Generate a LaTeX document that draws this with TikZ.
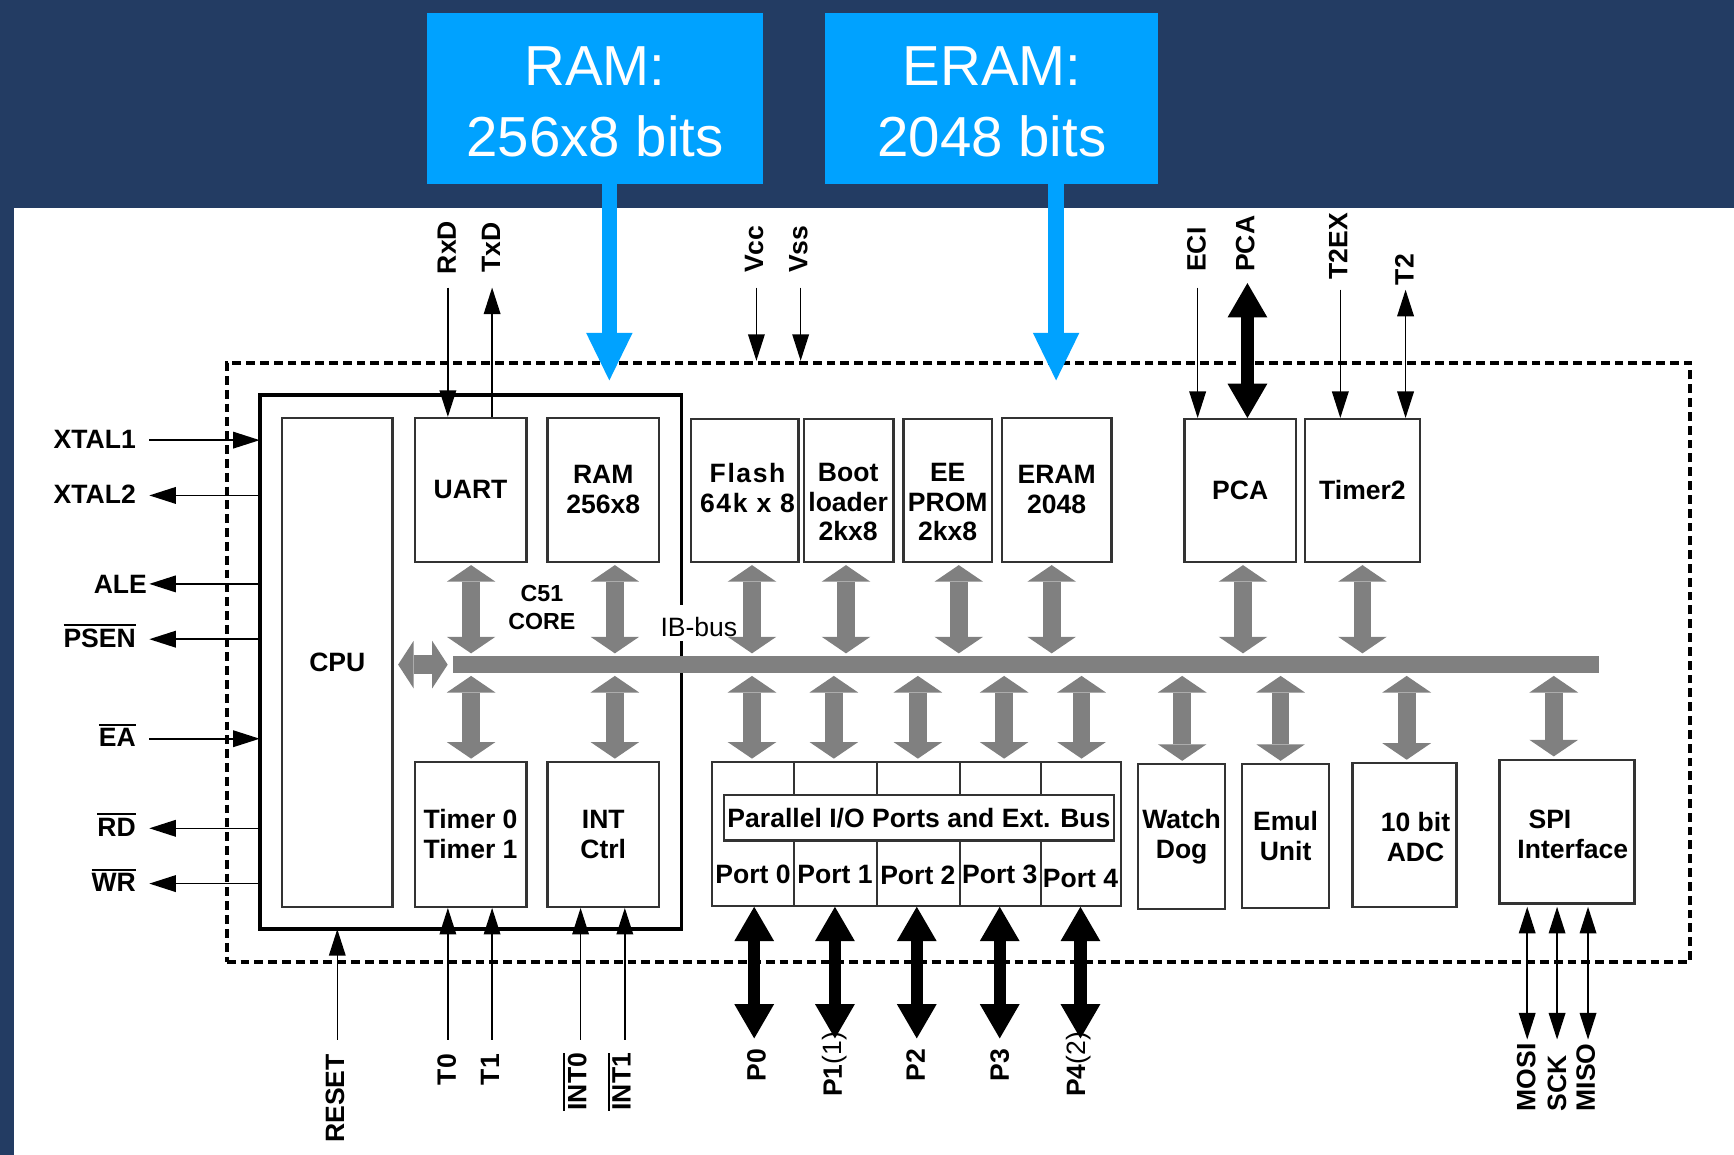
\documentclass[tikz,border=0pt]{standalone}
\usepackage{fontspec}
\setmainfont{Liberation Sans}
\usetikzlibrary{arrows.meta}
\definecolor{navy}{RGB}{35,60,99}
\definecolor{callout}{RGB}{0,162,255}
\definecolor{busgray}{RGB}{128,128,128}
\newcommand\ovl[1]{\setbox0=\hbox{#1}\rlap{\smash{\rule[\dimexpr\ht0+2.5pt\relax]{\wd0}{1.8pt}}}\box0}
\newcommand\gup[3]{\path ([xshift=#2pt]#1.south) coordinate (#3); \draw[gbus] (#3) -- (#3 |- bus.north);}
\newcommand\gdn[3]{\path ([xshift=#2pt]#1.north) coordinate (#3); \draw[gbus] (#3 |- bus.south) -- (#3);}
\begin{document}
\begin{tikzpicture}[x=1pt,y=-1pt,
  blk/.style={draw=black!80, line width=2pt, fill=white, inner sep=0pt, font=\fontsize{24}{27}\selectfont\bfseries, align=center},
  lab/.style={inner sep=0pt, font=\fontsize{24}{27}\selectfont\bfseries, align=center},
  rlab/.style={lab, rotate=90},
  sig/.style={line width=1.4pt, -{Triangle[length=24pt,width=15pt]}},
  sigbi/.style={line width=1.4pt, {Triangle[length=24pt,width=15pt]}-{Triangle[length=24pt,width=15pt]}},
  fatbi/.style={line width=11pt, {Triangle[length=31pt,width=36pt,line width=0pt]}-{Triangle[length=31pt,width=36pt,line width=0pt]}},
  gbus/.style={busgray, line width=16pt, shorten >=2pt, shorten <=2pt, {Triangle[length=15pt,width=44pt,line width=0pt]}-{Triangle[length=15pt,width=44pt,line width=0pt]}},
  callbox/.style={fill=callout, inner sep=0pt},
  calltext/.style={text=white, inner sep=0pt, font=\fontsize{51}{64}\selectfont, align=center},
  callarr/.style={callout, line width=14pt, -{Triangle[length=43pt,width=42pt,line width=0pt]}},
]
\useasboundingbox (0,0) rectangle (1568,1044);
% background
\fill[navy] (0,0) rectangle (1568,1044);
\fill[white] (13,188) rectangle (1568,1044);

% dashed chip border
\node[draw, line width=3.4pt, dash pattern=on 8pt off 4.5pt, minimum width=1323pt, minimum height=542pt, inner sep=0pt] (dash) at (866.5,599) {};

% C51 core outline with gap for IB-bus label
\node[minimum width=381pt, minimum height=483pt, inner sep=0pt] (core) at (425.5,598.5) {};
\draw[line width=3.5pt] ([yshift=51.5pt]core.east) -- (core.north east) -- (core.north west) -- (core.south west) -- (core.south east) -- ([yshift=18.5pt]core.east);

% blocks
\node[blk, minimum width=100pt, minimum height=442pt] (cpu) at (305,599) {CPU};
\node[blk, minimum width=101pt, minimum height=130pt] (uart) at (425.5,443) {UART};
\node[blk, minimum width=101pt, minimum height=130pt] (ram) at (545.5,443) {RAM\\256x8};
\node[blk, minimum width=101pt, minimum height=131pt] (tmr) at (425.5,754.5) {Timer 0\\Timer 1};
\node[blk, minimum width=101pt, minimum height=131pt] (intc) at (545.5,754.5) {INT\\Ctrl};
\node[blk, minimum width=97pt, minimum height=129pt] (flash) at (673.5,443.5) {};
\node[lab, font=\fontsize{24}{27}\selectfont\bfseries\addfontfeature{LetterSpace=6}] (flasht) at (676,441) {Flash\\64k x 8};
\node[blk, minimum width=81pt, minimum height=129pt] (boot) at (767.5,443.5) {};
\node[lab] (boott) at (767,454) {Boot\\loader\\2kx8};
\node[blk, minimum width=80pt, minimum height=129pt] (eep) at (857,443.5) {};
\node[lab] (eept) at (857,454) {EE\\PROM\\2kx8};
\node[blk, minimum width=99pt, minimum height=130pt] (eram) at (955.5,443) {ERAM\\2048};
\node[blk, minimum width=101pt, minimum height=129pt] (pca) at (1121.5,443.5) {PCA};
\node[blk, minimum width=104pt, minimum height=129pt] (tmr2) at (1232,443.5) {Timer2};

\node[blk, minimum width=370pt, minimum height=130pt] (ports) at (829,754) {};
\foreach \dx in {718,793,868,941} {
  \draw[line width=2pt, black!80] (\dx,689) -- (\dx,719);
  \draw[line width=2pt, black!80] (\dx,760) -- (\dx,819);
}
\node[blk, minimum width=352pt, minimum height=41pt] (parl) at (831,739.5) {Parallel I/O Ports and Ext. Bus};
\node[lab] (port0) at (681,791) {Port 0};
\node[lab] (port1) at (755,791) {Port 1};
\node[lab] (port2) at (830,792) {Port 2};
\node[lab] (port3) at (904,791) {Port 3};
\node[lab] (port4) at (977,794) {Port 4};

\node[blk, minimum width=79pt, minimum height=131pt] (wdog) at (1068.5,756.5) {Watch\\Dog};
\node[blk, minimum width=79pt, minimum height=130pt] (emul) at (1162.5,756) {Emul\\Unit};
\node[blk, minimum width=94pt, minimum height=130pt] (adc) at (1270,755) {};
\node[lab] (adct) at (1280,757) {10 bit\\ADC};
\node[blk, minimum width=122pt, minimum height=130pt] (spi) at (1417,752) {};
\node[lab, anchor=west] (spit) at (1382,741) {SPI};
\node[lab, anchor=west] (spit2) at (1372,768) {Interface};

\node[lab, font=\fontsize{21}{25}\selectfont\bfseries] (c51) at (490,549.5) {C51\\CORE};

% internal bus
\node[fill=busgray, minimum width=1036pt, minimum height=16pt, inner sep=0pt] (bus) at (928,601) {};
\path ([xshift=2pt,yshift=-2pt]cpu.east) coordinate (cpub);
\draw[gbus, line width=17pt, shorten >=5pt, {Triangle[length=14pt,width=43pt,line width=0pt]}-{Triangle[length=14pt,width=43pt,line width=0pt]}] (cpub) -- (cpub -| bus.west);
\gup{uart}{0.5}{gu1}
\gup{ram}{10.5}{gu2}
\gup{flash}{6.5}{gu3}
\gup{boot}{-2.5}{gu4}
\gup{eep}{10}{gu5}
\gup{eram}{-4.5}{gu6}
\gup{pca}{2.5}{gu7}
\gup{tmr2}{0}{gu8}
\gdn{tmr}{0.5}{gd1}
\gdn{intc}{10.5}{gd2}
\gdn{ports}{-149}{gd3}
\gdn{ports}{-75}{gd4}
\gdn{ports}{1}{gd5}
\gdn{ports}{79}{gd6}
\gdn{ports}{149}{gd7}
\gdn{wdog}{0.5}{gd8}
\gdn{emul}{-4.5}{gd9}
\gdn{adc}{2}{gd10}
\gdn{spi}{-12}{gd11}

\node[lab, font=\fontsize{24}{27}\selectfont] (ibbus) at (632,567) {IB-bus};

% left signals
\node[lab, anchor=east] (xtal1) at (123,397) {XTAL1};
\node[lab, anchor=east] (xtal2) at (123,447) {XTAL2};
\node[lab, anchor=east] (ale) at (133,528) {ALE};
\node[lab, anchor=east] (psen) at (123,577) {\ovl{PSEN}};
\node[lab, anchor=east] (ea) at (123,667) {\ovl{EA}};
\node[lab, anchor=east] (rd) at (123,748) {\ovl{RD}};
\node[lab, anchor=east] (wr) at (123,798) {\ovl{WR}};
\coordinate (xtal1s) at (135,398);
\coordinate (xtal2s) at (135,448);
\coordinate (ales) at (135,528);
\coordinate (psens) at (135,578);
\coordinate (eas) at (135,668);
\coordinate (rds) at (135,749);
\coordinate (wrs) at (135,799);
\draw[sig] (xtal1s) -- (xtal1s -| core.west);
\draw[sig] (xtal2s -| core.west) -- (xtal2s);
\draw[sig] (ales -| core.west) -- (ales);
\draw[sig] (psens -| core.west) -- (psens);
\draw[sig] (eas) -- (eas -| core.west);
\draw[sig] (rds -| core.west) -- (rds);
\draw[sig] (wrs -| core.west) -- (wrs);

% top signals
\node[rlab, anchor=west] (rxd) at (404,248) {RxD};
\node[rlab, anchor=west] (txd) at (444,247) {TxD};
\node[rlab, anchor=west] (vcc) at (682,247) {Vcc};
\node[rlab, anchor=west] (vss) at (722,247) {Vss};
\node[rlab, anchor=west] (eci) at (1082,246) {ECI};
\node[rlab, anchor=west] (pcal) at (1126,246) {PCA};
\node[rlab, anchor=west] (t2ex) at (1210,253) {T2EX};
\node[rlab, anchor=west] (t2) at (1270,258) {T2};
\coordinate (rxds) at (405,260);
\coordinate (txds) at (445,260);
\coordinate (vccs) at (684,260);
\coordinate (vsss) at (724,260);
\coordinate (ecis) at (1083,260);
\coordinate (pcas) at (1128,256);
\coordinate (t2exs) at (1212,262);
\coordinate (t2s) at (1271,262);
\draw[sig] (rxds) -- (rxds |- uart.north);
\draw[sig] (txds |- uart.north) -- (txds);
\draw[sig] (vccs) -- (vccs |- dash.north);
\draw[sig] (vsss) -- (vsss |- dash.north);
\draw[sig] (ecis) -- (ecis |- pca.north);
\draw[fatbi] (pcas) -- (pcas |- pca.north);
\draw[sig] (t2exs) -- (t2exs |- tmr2.north);
\draw[sigbi] (t2s) -- (t2s |- tmr2.north);

% bottom signals
\node[rlab, anchor=east] (reset) at (303,953) {RESET};
\node[rlab, anchor=east] (t0) at (404,953) {T0};
\node[rlab, anchor=east] (t1) at (443,953) {T1};
\node[rlab, anchor=east] (int0) at (522,952) {\ovl{INT0}};
\node[rlab, anchor=east] (int1) at (562,952) {\ovl{INT1}};
\node[rlab, anchor=east] (p0) at (684,948) {P0};
\node[rlab, anchor=east] (p1) at (755,933) {P1{\mdseries(1)}};
\node[rlab, anchor=east] (p2) at (828,948) {P2};
\node[rlab, anchor=east] (p3) at (904,948) {P3};
\node[rlab, anchor=east] (p4) at (975,933) {P4{\mdseries(2)}};
\node[rlab, anchor=west] (mosi) at (1380,1005) {MOSI};
\node[rlab, anchor=west] (sck) at (1408,1005) {SCK};
\node[rlab, anchor=west] (miso) at (1434,1005) {MISO};
\coordinate (resets) at (305,940);
\coordinate (t0s) at (405,940);
\coordinate (t1s) at (445,940);
\coordinate (int0s) at (525,940);
\coordinate (int1s) at (565,940);
\coordinate (p0s) at (682,939);
\coordinate (p1s) at (755,939);
\coordinate (p2s) at (829,939);
\coordinate (p3s) at (904,939);
\coordinate (p4s) at (977,939);
\coordinate (mosis) at (1381,940);
\coordinate (scks) at (1408,940);
\coordinate (misos) at (1436,940);
\draw[sig] (resets) -- (resets |- core.south);
\draw[sig] (t0s) -- (t0s |- tmr.south);
\draw[sig] (t1s) -- (t1s |- tmr.south);
\draw[sig] (int0s) -- (int0s |- intc.south);
\draw[sig] (int1s) -- (int1s |- intc.south);
\draw[fatbi] (p0s |- ports.south) -- (p0s);
\draw[fatbi] (p1s |- ports.south) -- (p1s);
\draw[fatbi] (p2s |- ports.south) -- (p2s);
\draw[fatbi] (p3s |- ports.south) -- (p3s);
\draw[fatbi] (p4s |- ports.south) -- (p4s);
\draw[sigbi, shorten <=2pt] (mosis |- spi.south) -- (mosis);
\draw[sigbi, shorten <=2pt] (scks |- spi.south) -- (scks);
\draw[sigbi, shorten <=2pt] (misos |- spi.south) -- (misos);

% callouts
\node[callbox, minimum width=304pt, minimum height=154pt] (ramc) at (538,89) {};
\node[calltext] (ramct) at (538,92) {RAM:\\256x8 bits};
\node[callbox, minimum width=301pt, minimum height=154pt] (eramc) at (896.5,89) {};
\node[calltext] (eramct) at (897,92) {ERAM:\\2048 bits};
\coordinate (ramtip) at (551,344);
\coordinate (eramtip) at (955,344);
\draw[callarr] (ramtip |- ramc.south) -- (ramtip);
\draw[callarr] (eramtip |- eramc.south) -- (eramtip);
\end{tikzpicture}
\end{document}
